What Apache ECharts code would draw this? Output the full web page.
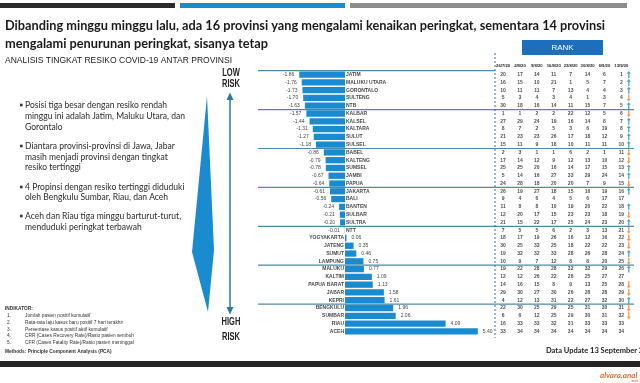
<!DOCTYPE html>
<html><head><meta charset="utf-8">
<script src="https://cdn.jsdelivr.net/npm/echarts@6/dist/echarts.min.js"></script>
<style>html,body{margin:0;padding:0;background:#fff}#c{width:640px;height:383px}</style>
</head><body><div id="c"></div>
<script>
const provinces = ['JATIM','MALUKU UTARA','GORONTALO','SULTENG','NTB','KALBAR','KALSEL','KALTARA','SULUT','SULSEL',
 'BABEL','KALTENG','SUMSEL','JAMBI','PAPUA','JAKARTA','BALI','BANTEN','SULBAR','SULTRA',
 'NTT','YOGYAKARTA','JATENG','SUMUT','LAMPUNG','MALUKU','KALTIM','PAPUA BARAT','JABAR','KEPRI',
 'BENGKULU','SUMBAR','RIAU','ACEH'];
const scores = [-1.86,-1.76,-1.73,-1.70,-1.63,-1.57,-1.44,-1.31,-1.27,-1.18,
 -0.86,-0.79,-0.78,-0.67,-0.64,-0.61,-0.56,-0.24,-0.21,-0.20,
 -0.01,0.06,0.35,0.46,0.75,0.77,1.09,1.13,1.58,1.61,
 1.96,2.06,4.09,5.40];
const dates = ['26/7/20','2/8/20','9/8/20','16/8/20','23/8/20','30/8/20','6/9/20','13/9/20'];
const ranks = [
 [20,17,14,11,7,14,6,1],[16,15,10,21,1,5,7,2],[10,11,11,7,13,4,4,3],[5,3,4,3,4,1,3,4],[30,18,16,14,11,15,7,5],
 [1,1,2,2,22,12,5,6],[27,29,24,19,16,14,8,7],[8,7,2,5,3,6,19,8],[21,23,23,26,17,18,12,9],[15,11,9,18,10,11,11,10],
 [2,3,1,1,6,2,1,11],[17,14,12,9,12,13,10,12],[25,25,20,16,14,17,15,13],[5,14,16,27,33,29,24,14],[24,28,18,20,20,7,9,15],
 [26,19,27,18,15,16,19,16],[9,4,6,4,5,6,17,17],[11,8,8,10,19,20,22,18],[12,20,17,15,23,23,18,19],[21,15,22,17,25,24,23,20],
 [7,5,5,6,2,3,13,21],[18,17,19,26,16,12,16,22],[30,25,33,25,18,22,22,23],[19,32,32,33,28,26,28,24],[10,9,7,12,8,8,20,25],
 [19,22,28,28,32,32,29,26],[12,12,26,22,28,25,27,27],[14,16,15,8,9,13,25,28],[29,30,27,30,26,28,28,29],[4,12,13,31,22,27,32,30],
 [22,30,25,29,25,31,30,31],[6,6,12,25,29,30,31,32],[16,33,33,32,31,33,33,33],[33,34,34,34,34,34,34,34]
];
const bulletLines = [
 ['Posisi tiga besar dengan resiko rendah','minggu ini adalah Jatim, Maluku Utara, dan','Gorontalo'],
 ['Diantara provinsi-provinsi di Jawa, Jabar','masih menjadi provinsi dengan tingkat','resiko tertinggi'],
 ['4 Propinsi dengan resiko tertinggi diduduki','oleh Bengkulu Sumbar, Riau, dan Aceh'],
 ['Aceh dan Riau tiga minggu barturut-turut,','menduduki peringkat terbawah']
];
const indicators = ['Jumlah pasien positif kumulatif','Rata-rata laju kasus baru positif 7 hari terakhir',
 'Persentase kasus positif aktif kumulatif','CRR (Cases Recovery Rate)/Rasio pasien sembuh',
 'CFR (Cases Fatality Rate)/Rasio pasien meninggal'];

const BLUE = '#1b8bd0';
const ROW0 = 74.6, PITCH = 7.78;
const GTOP = ROW0 - PITCH/2, GH = PITCH*34;

const mctx = document.createElement('canvas').getContext('2d');
function fontStr(size, o){ return (o.italic?'italic ':'')+(o.bold?'bold ':'')+size+'px '+(o.family||'Lato'); }
function measure(text,size,o){ mctx.font = fontStr(size,o||{}); return mctx.measureText(text).width; }
function T(text,x,y,size,o){
  o = o||{};
  let sx = o.sx || 1;
  if (o.w) sx = o.w/measure(text,size,o);
  const al = o.align||'left';
  return {type:'text', x:x, y:y, scaleX:sx, scaleY:1, z:10, silent:true,
    style:{text:text, font:fontStr(size,o), fill:o.color||'#222', textAlign:al, align:al,
      textVerticalAlign:'middle', verticalAlign:'middle'}};
}
const G = [];
// top strips
G.push({type:'rect', shape:{x:0,y:3,width:175,height:5}, style:{fill:'#2b2b2b'}});
G.push({type:'rect', shape:{x:180,y:3,width:165,height:5}, style:{fill:BLUE}});
G.push({type:'rect', shape:{x:350,y:3,width:277,height:5}, style:{fill:'#8c8c8c'}});
// title
const t1 = 'Dibanding minggu minggu lalu, ada 16 provinsi yang mengalami kenaikan peringkat, sementara 14 provinsi';
const tsx = 600/measure(t1,14,{bold:true});
G.push(T(t1,5,25.5,14,{bold:true,sx:tsx,color:'#1a1a1a'}));
G.push(T('mengalami penurunan peringkat, sisanya tetap',5,43.5,14,{bold:true,sx:tsx,color:'#1a1a1a'}));
G.push(T('ANALISIS TINGKAT RESIKO COVID-19 ANTAR PROVINSI',5,60.5,9.5,{family:'Liberation Sans',w:227,color:'#1a1a1a'}));
// RANK box
G.push({type:'rect', shape:{x:522,y:40,width:81,height:15}, style:{fill:'#1d6fbe'}});
G.push(T('RANK',562.5,47.5,8,{family:'Liberation Sans',color:'#fff',align:'center'}));
// bullets
const bsx = 142/measure(bulletLines[0][0],9,{});
const bY = [[105,116.5,127],[146,156.7,167.3],[187,197],[216,226.7]];
bulletLines.forEach((ls,i)=>{
  G.push({type:'rect', shape:{x:20,y:bY[i][0]-1.3,width:2.6,height:2.6}, style:{fill:'#333'}});
  ls.forEach((l,j)=>G.push(T(l,25,bY[i][j],9,{sx:bsx,color:'#2a2a2a'})));
});
// kite shape
G.push({type:'polygon', shape:{points:[[207,96],[214,250],[208,312],[192,252]]}, style:{fill:BLUE}});
// risk arrow
const AC = '#2b7a98';
G.push({type:'line', shape:{x1:230,y1:96,x2:230,y2:311}, style:{stroke:AC,lineWidth:1.5}});
G.push({type:'polygon', shape:{points:[[226.5,100],[230,92.5],[233.5,100]]}, style:{fill:AC}});
G.push({type:'polygon', shape:{points:[[226.5,307],[230,314.5],[233.5,307]]}, style:{fill:AC}});
const rsx = 18/measure('RISK',10,{bold:true,family:'Liberation Sans'});
G.push(T('LOW',231,73,10,{bold:true,family:'Liberation Sans',sx:rsx,align:'center'}));
G.push(T('RISK',231,84.5,10,{bold:true,family:'Liberation Sans',sx:rsx,align:'center'}));
G.push(T('HIGH',231,322.5,10,{bold:true,family:'Liberation Sans',sx:rsx,align:'center'}));
G.push(T('RISK',231,337,10,{bold:true,family:'Liberation Sans',sx:rsx,align:'center'}));
// indicators
G.push(T('INDIKATOR:',5,308.5,4.8,{bold:true,family:'Liberation Sans',color:'#333'}));
const iY = [316,322.8,329.5,336,342.5];
indicators.forEach((s,i)=>{
  G.push(T((i+1)+'.',7,iY[i],4.8,{family:'Liberation Sans',color:'#333'}));
  G.push(T(s,25,iY[i],4.8,{family:'Liberation Sans',color:'#333'}));
});
G.push(T('Methods: Principle Component Analysis (PCA)',5,352,4.8,{bold:true,family:'Liberation Sans',color:'#333'}));
// separators
G.push({type:'line', shape:{x1:258,y1:GTOP,x2:495,y2:GTOP}, style:{stroke:'#4f8aa6',lineWidth:1.2}});
[5,10,15,20,25,30].forEach(k=>{
  const y = ROW0 + PITCH*(k-0.5);
  G.push({type:'line', shape:{x1:258,y1:y,x2:634,y2:y}, style:{stroke:'#4f8aa6',lineWidth:1.2}});
});
G.push({type:'line', shape:{x1:495,y1:53,x2:495,y2:338}, style:{stroke:'#2e6f8e',lineWidth:1,lineDash:[2,2]}});
// footer
G.push(T('Data Update 13 September 2020',546,351,7.5,{bold:true,family:'Lato',color:'#222'}));
G.push({type:'rect', shape:{x:0,y:361,width:640,height:6}, style:{fill:'#242424'}});
G.push(T('alvara.anal',600,375,8,{bold:true,italic:true,color:'#e0702a'}));
G.push(T('stat',638,381,4,{color:'#c05020',align:'right'}));

const tableData = [];
ranks.forEach((r,i)=>r.forEach((v,j)=>tableData.push([j,i,v])));
const UP = 'path://M5,0 L10,5 L6.6,5 L6.6,14 L3.4,14 L3.4,5 L0,5 Z';
const arrowData = [];
ranks.forEach((r,i)=>{
  const d = r[6]-r[7];
  if (d>0) arrowData.push({value:[7.94,i], symbolRotate:0, itemStyle:{color:'#2a8bc2'}});
  else if (d<0) arrowData.push({value:[7.94,i], symbolRotate:180, itemStyle:{color:'#e8822f'}});
});

const chart = echarts.init(document.getElementById('c'), null, {renderer:'canvas'});
chart.setOption({
  animation:false,
  grid:[{left:345-2*24.6, width:8*24.6, top:GTOP, height:GH},
        {left:494.6, width:135.2, top:GTOP, height:GH}],
  xAxis:[
    {type:'value', gridIndex:0, min:-2, max:6, show:false},
    {type:'category', gridIndex:1, data:dates, position:'top', axisLine:{show:false}, axisTick:{show:false},
     splitLine:{show:false}, axisLabel:{interval:0, fontSize:4.2, fontWeight:'bold', fontFamily:'Liberation Sans', color:'#222', margin:3}},
    {type:'value', gridIndex:1, min:0, max:8, show:false}
  ],
  yAxis:[
    {type:'category', gridIndex:0, data:provinces, inverse:true, show:false},
    {type:'category', gridIndex:1, data:provinces, inverse:true, show:false}
  ],
  series:[
    {type:'bar', xAxisIndex:0, yAxisIndex:0, barWidth:6.3, itemStyle:{color:BLUE},
     data:scores.map(v=>({value:v, label:{position: v<0?'left':'right'}})),
     label:{show:true, distance:5, fontSize:5, fontFamily:'Liberation Sans', color:'#444', formatter:p=>p.value.toFixed(2)}},
    {type:'scatter', xAxisIndex:0, yAxisIndex:0, symbolSize:0,
     data:provinces.map((p,i)=>({value:[0,i], label:{position: scores[i]<0?'right':'left'}})),
     label:{show:true, distance:1, fontSize:5, fontWeight:'bold', fontFamily:'Liberation Sans', color:'#111',
       formatter:p=>provinces[p.dataIndex]}},
    {type:'scatter', xAxisIndex:1, yAxisIndex:1, symbolSize:0, data:tableData,
     label:{show:true, position:'inside', fontSize:5, fontWeight:'bold', fontFamily:'Liberation Sans', color:'#222',
       formatter:p=>String(p.value[2])}},
    {type:'scatter', xAxisIndex:2, yAxisIndex:1, symbol:UP, symbolSize:[4.2,7], data:arrowData}
  ],
  graphic:G
});
</script></body></html>
